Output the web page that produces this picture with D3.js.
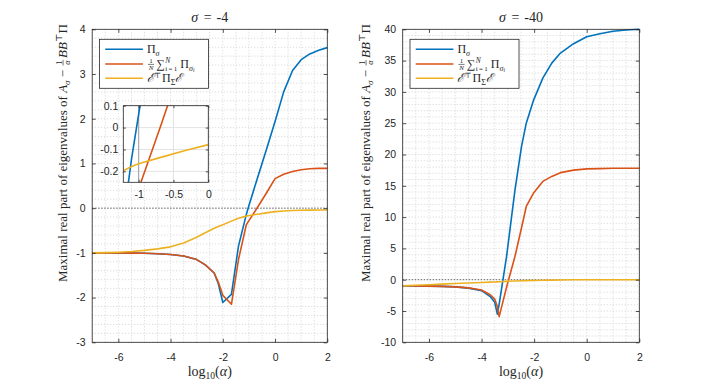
<!DOCTYPE html>
<html>
<head>
<meta charset="utf-8">
<script src="https://cdn.jsdelivr.net/npm/d3@7"></script>
<style>
  body { margin: 0; background: #fff; }
  svg { display: block; }
</style>
</head>
<body>
<div id="chart"></div>
<script>
// values, x is log10(alpha)

const xTicks = [-6, -4, -2, 0, 2];

// sigma = -4
const leftX   = [-7, -6.5, -6, -5.5, -5, -4.5, -4, -3.5, -3, -2.67, -2.33, -2.17, -2, -1.67, -1.4, -1.1, -1, -0.67, -0.33, 0, 0.33, 0.67, 1, 1.33, 1.67, 2];
const leftPi  = [-1.0, -1.0, -1.0, -1.005, -1.01, -1.02, -1.035, -1.07, -1.15, -1.27, -1.45, -1.69, -2.11, -1.93, -0.85, -0.14, 0.06, 0.68, 1.31, 1.94, 2.6, 3.08, 3.32, 3.45, 3.53, 3.59];
const leftAvg = [-1.0, -1.0, -1.0, -1.005, -1.01, -1.02, -1.035, -1.07, -1.15, -1.27, -1.45, -1.66, -1.95, -2.15, -1.15, -0.37, -0.28, 0.02, 0.34, 0.66, 0.76, 0.82, 0.86, 0.88, 0.89, 0.89];
const leftE   = [-1.0, -0.995, -0.985, -0.97, -0.945, -0.91, -0.865, -0.78, -0.65, -0.55, -0.45, -0.41, -0.37, -0.29, -0.225, -0.178, -0.165, -0.135, -0.105, -0.078, -0.062, -0.052, -0.047, -0.044, -0.042, -0.04];
const leftYTicks = [-3, -2, -1, 0, 1, 2, 3, 4];

// sigma = -40
const rightX   = [-7, -6.5, -6, -5.5, -5, -4.5, -4, -3.67, -3.5, -3.4, -3.33, -3.05, -2.73, -2.48, -2.3, -2.03, -1.67, -1.33, -1, -0.5, 0, 0.5, 1, 1.5, 2];
const rightPi  = [-0.96, -0.99, -1.02, -1.07, -1.15, -1.35, -1.75, -2.7, -3.6, -5.5, -3.9, 3.7, 14.3, 21.3, 25.0, 28.6, 32.2, 34.6, 36.2, 37.7, 38.8, 39.3, 39.7, 39.9, 40.0];
const rightAvg = [-0.96, -0.99, -1.02, -1.07, -1.15, -1.3, -1.65, -2.4, -3.1, -4.3, -5.9, -1.2, 3.7, 8.3, 11.7, 13.8, 15.7, 16.5, 17.1, 17.5, 17.7, 17.75, 17.8, 17.8, 17.8];
const rightE   = [-0.96, -0.88, -0.8, -0.7, -0.6, -0.52, -0.45, -0.39, -0.36, -0.34, -0.33, -0.26, -0.2, -0.16, -0.14, -0.12, -0.08, -0.06, -0.04, -0.02, -0.01, 0, 0, 0, 0];
const rightYTicks = [-10, -5, 0, 5, 10, 15, 20, 25, 30, 35, 40];

// inset of the left panel
const insetXTicks = [-1, -0.5, 0];
const insetYTicks = [-0.2, -0.1, 0, 0.1];

const colors = ["#0072BD", "#D95319", "#EDB120"];

const width = 706, height = 385;
const serif = "'Liberation Serif', 'DejaVu Serif', serif";
const sans = "'Liberation Sans', Arial, sans-serif";
const ink = "#262626";

const svg = d3.select("#chart")
    .append("svg")
    .attr("width", width)
    .attr("height", height);

svg.append("rect").attr("width", width).attr("height", height).attr("fill", "#fff");

// small helper to lay out latex-ish text piece by piece
function txt(g, s, fs, it) {
    return g.append("text")
        .attr("font-family", serif)
        .attr("font-size", fs)
        .attr("font-style", it ? "italic" : "normal")
        .attr("fill", ink)
        .style("white-space", "pre")
        .text(s);
}

function rich(g, x, y, parts, base) {
    let cx = x, mark = x;
    for (const p of parts) {
        const fs = p.fs || base;
        if (p.frac) {
            const ax = y - base * 0.3;
            const n = txt(g, p.frac[0], fs, p.it0).attr("y", ax - 1.1);
            const d = txt(g, p.frac[1], fs, p.it1).attr("y", ax + fs * 0.7 + 0.8);
            const wn = n.node().getComputedTextLength(), wd = d.node().getComputedTextLength();
            const w = Math.max(wn, wd) + 1.5;
            n.attr("x", cx + 1 + (w - wn) / 2);
            d.attr("x", cx + 1 + (w - wd) / 2);
            g.append("line")
                .attr("x1", cx + 1).attr("x2", cx + 1 + w)
                .attr("y1", ax).attr("y2", ax)
                .attr("stroke", ink).attr("stroke-width", 0.6);
            cx += w + 3;
            continue;
        }
        if (p.back) cx = mark; else mark = cx;
        const t = txt(g, p.t, fs, p.it)
            .attr("x", cx + (p.dx || 0))
            .attr("y", y + (p.dy || 0));
        cx += (p.dx || 0) + t.node().getComputedTextLength();
    }
    return cx;
}

const legendParts = [
    [{t: "Π"}, {t: "σ", fs: 8, dy: 2.6, it: true}],
    [{frac: ["1", "N"], fs: 7, it1: true},
     {t: "∑", fs: 12}, {t: "N", fs: 7.5, dy: -5, dx: 0.5, it: true}, {t: "i\u2009=\u20091", fs: 7, dy: 3, dx: 0.5, back: true},
     {t: "Π", dx: 3}, {t: "σ", fs: 8, dy: 2.6, it: true}, {t: "i", fs: 5.5, dy: 4.2, it: true}],
    [{t: "ℰ", it: true}, {t: "⊤", fs: 7.5, dy: -4}, {t: "Π", dx: 1}, {t: "Σ", fs: 8, dy: 2.6}, {t: "ℰ", it: true}]
];

const yLabelParts = [
    {t: "Maximal real part of eigenvalues of "}, {t: "A", it: true}, {t: "σ", fs: 9, dy: 2.5, it: true},
    {t: " − "}, {frac: ["1", "α"], fs: 8, it1: true},
    {t: "BB", it: true}, {t: "⊤", fs: 9, dy: -5}, {t: "Π"}
];

function panel(p) {
    const top = 29.3, bottom = 342.3;
    const x = d3.scaleLinear().domain([-7, 2]).range([p.left, p.right]);
    const y = d3.scaleLinear().domain(p.yDomain).range([bottom, top]);
    const g = svg.append("g");

    // dotted grid, minor and major alike
    g.append("g").selectAll("line")
        .data(d3.range(-7, 2.001, 0.5))
        .join("line")
        .attr("x1", d => x(d)).attr("x2", d => x(d))
        .attr("y1", top).attr("y2", bottom)
        .attr("stroke", "#d4d4d4").attr("stroke-dasharray", "1,2");
    g.append("g").selectAll("line")
        .data(d3.range(p.yDomain[0], p.yDomain[1] + 0.001, p.yMinor))
        .join("line")
        .attr("y1", d => y(d)).attr("y2", d => y(d))
        .attr("x1", p.left).attr("x2", p.right)
        .attr("stroke", "#d4d4d4").attr("stroke-dasharray", "1,2");

    // dotted zero line
    g.append("line")
        .attr("x1", p.left).attr("x2", p.right)
        .attr("y1", y(0)).attr("y2", y(0))
        .attr("stroke", "#6a6a6a").attr("stroke-dasharray", "1.5,1.5");

    const line = d3.line().x(d => x(d[0])).y(d => y(d[1]));
    p.series.forEach((s, i) => {
        g.append("path")
            .datum(p.x.map((v, j) => [v, s[j]]))
            .attr("d", line)
            .attr("fill", "none")
            .attr("stroke", colors[i])
            .attr("stroke-width", 1.6)
            .attr("stroke-linejoin", "round");
    });

    // axes, ticks pointing inward on all four sides
    const fmt = d => String(d);
    const axes = [
        [d3.axisBottom(x).tickValues(xTicks).tickFormat(fmt).tickPadding(11), `translate(0,${bottom})`],
        [d3.axisTop(x).tickValues(xTicks).tickFormat(""), `translate(0,${top})`],
        [d3.axisLeft(y).tickValues(p.yTicks).tickFormat(fmt).tickPadding(6.5), `translate(${p.left},0)`],
        [d3.axisRight(y).tickValues(p.yTicks).tickFormat(""), `translate(${p.right},0)`]
    ];
    axes.forEach(([ax, tr]) => {
        const a = g.append("g").attr("transform", tr)
            .call(ax.tickSizeInner(-3.5).tickSizeOuter(0));
        a.select(".domain").remove();
        a.selectAll("line").attr("stroke", ink).attr("stroke-width", 0.8);
        a.selectAll("text").attr("font-family", sans).attr("font-size", 10.5).attr("fill", ink);
    });

    g.append("rect")
        .attr("x", p.left).attr("y", top)
        .attr("width", p.right - p.left).attr("height", bottom - top)
        .attr("fill", "none").attr("stroke", ink).attr("stroke-width", 0.8);

    // title
    const tg = g.append("g");
    const tw = rich(tg, 0, 0, [{t: "σ", it: true}, {t: "=", dx: 5.5}, {t: p.title, dx: 5}], 14);
    tg.attr("transform", `translate(${(p.left + p.right) / 2 - tw / 2},22)`);

    // x label
    const xg = g.append("g");
    const xw = rich(xg, 0, 0, [{t: "log"}, {t: "10", fs: 9.5, dy: 3}, {t: "("}, {t: "α", it: true}, {t: ")"}], 14);
    xg.attr("transform", `translate(${(p.left + p.right) / 2 - xw / 2},376)`);

    // y label, rotated
    const yg = g.append("g").attr("transform", `translate(${p.labelX},282) rotate(-90)`);
    rich(yg, 0, 0, yLabelParts, 13);

    // legend
    const lx = p.left + 7.3, ly = 39.3;
    const lg = g.append("g");
    lg.append("rect").attr("x", lx).attr("y", ly).attr("width", 109).attr("height", 49)
        .attr("fill", "#fff").attr("stroke", ink).attr("stroke-width", 0.8);
    [10, 24.7, 39].forEach((dy, i) => {
        lg.append("line")
            .attr("x1", lx + 5.7).attr("x2", lx + 43.4)
            .attr("y1", ly + dy).attr("y2", ly + dy)
            .attr("stroke", colors[i]).attr("stroke-width", 1.6);
        rich(lg, lx + 47.4, ly + dy + 4, legendParts[i], 12);
    });

    if (p.inset) inset(p);
}

function inset(p) {
    const l = 123.3, r = 208.3, t = 105.7, b = 182.3;
    const x = d3.scaleLinear().domain([-1.22, 0]).range([l, r]);
    const y = d3.scaleLinear().domain([-0.25, 0.1]).range([b, t]);
    const g = svg.append("g");
    g.append("rect").attr("x", l).attr("y", t).attr("width", r - l).attr("height", b - t).attr("fill", "#fff");

    g.append("g").selectAll("line").data(insetYTicks).join("line")
        .attr("x1", l).attr("x2", r).attr("y1", d => y(d)).attr("y2", d => y(d))
        .attr("stroke", "#e3e3e3");
    g.append("g").selectAll("line").data(insetXTicks).join("line")
        .attr("x1", d => x(d)).attr("x2", d => x(d)).attr("y1", t).attr("y2", b)
        .attr("stroke", d => d === -1 ? "#a8a8a8" : "#e3e3e3")
        .attr("stroke-width", d => d === -1 ? 1.2 : 1);

    svg.append("clipPath").attr("id", "insetClip")
        .append("rect").attr("x", l).attr("y", t).attr("width", r - l).attr("height", b - t);

    const line = d3.line().x(d => x(d[0])).y(d => y(d[1]));
    const lines = g.append("g").attr("clip-path", "url(#insetClip)");
    p.series.forEach((s, i) => {
        lines.append("path")
            .datum(p.x.map((v, j) => [v, s[j]]))
            .attr("d", line)
            .attr("fill", "none")
            .attr("stroke", colors[i])
            .attr("stroke-width", 1.6);
    });

    const fmt = d => String(d);
    const axes = [
        [d3.axisBottom(x).tickValues(insetXTicks).tickFormat(fmt).tickPadding(8), `translate(0,${b})`],
        [d3.axisLeft(y).tickValues(insetYTicks).tickFormat(fmt).tickPadding(5), `translate(${l},0)`],
        [d3.axisTop(x).tickValues(insetXTicks).tickFormat(""), `translate(0,${t})`],
        [d3.axisRight(y).tickValues(insetYTicks).tickFormat(""), `translate(${r},0)`]
    ];
    axes.forEach(([ax, tr]) => {
        const a = g.append("g").attr("transform", tr)
            .call(ax.tickSizeInner(-2.5).tickSizeOuter(0));
        a.select(".domain").remove();
        a.selectAll("line").attr("stroke", ink).attr("stroke-width", 0.8);
        a.selectAll("text").attr("font-family", sans).attr("font-size", 10.5).attr("fill", ink);
    });
    g.append("rect").attr("x", l).attr("y", t).attr("width", r - l).attr("height", b - t)
        .attr("fill", "none").attr("stroke", ink).attr("stroke-width", 0.8);
}

panel({
    title: "-4", left: 92.2, right: 327.3, yDomain: [-3, 4], yMinor: 0.2,
    yTicks: leftYTicks, x: leftX, series: [leftPi, leftAvg, leftE], labelX: 67, inset: true
});

panel({
    title: "-40", left: 402.7, right: 639.3, yDomain: [-10, 40], yMinor: 1,
    yTicks: rightYTicks, x: rightX, series: [rightPi, rightAvg, rightE], labelX: 370
});
</script>
</body>
</html>
